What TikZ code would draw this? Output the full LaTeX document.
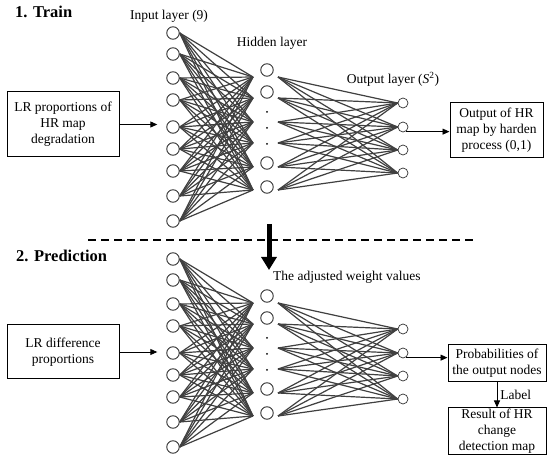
\documentclass[tikz,border=0pt]{standalone}
\usepackage{fontspec}
\setmainfont{Liberation Serif}
\usetikzlibrary{arrows.meta}
\tikzset{
 neuron/.style={circle, draw=black!80, line width=0.9pt, minimum size=12.5pt, inner sep=0pt, fill=white},
 outneuron/.style={neuron, minimum size=10pt, line width=0.7pt},
 edge/.style={draw=black!75, line width=1.2pt},
 box/.style={draw, line width=1pt, align=center, inner sep=0pt, font=\fontsize{13.5}{16}\selectfont},
 lbl/.style={font=\fontsize{13.5}{16}\selectfont, inner sep=0pt},
 ttl/.style={font=\fontsize{16.5}{20}\selectfont\bfseries, inner sep=0pt, anchor=west},
 arr/.style={-{Triangle[length=7pt,width=6pt]}, line width=0.9pt},
}
\newcommand\drawnet[2]{%
 \foreach \y [count=\i] in {70,92,163,187} \node[neuron] (#1hid\i) at (267,\y+#2) {};
 \foreach \y in {112,128,144} \fill (267,\y+#2) circle (1pt);
 \foreach \y [count=\i] in {103,127,150,173} \node[outneuron] (#1out\i) at (403,\y+#2) {};
 \foreach \y [count=\i] in {77,98,122,143,167,190} {\coordinate (#1a\i) at (253,\y+#2); \coordinate (#1b\i) at (278,\y+#2);}
 \foreach \y [count=\i] in {33,54,78,100,127,149,171,196,221} \node[neuron] (#1in\i) at (173,\y+#2) {};
 \foreach \i in {1,...,9} {\foreach \j in {1,...,6} {\draw[edge] (#1in\i.east) -- (#1a\j);}}
 \foreach \i in {1,...,6} {\foreach \j in {1,...,4} {\draw[edge] (#1b\i) -- (#1out\j.west);}}
}
\begin{document}
\begin{tikzpicture}[x=1pt,y=-1pt]
\fill[white] (0,0) rectangle (550,462);
\useasboundingbox (0,0) rectangle (550,462);

% titles and labels
\node[ttl] (t1) at (15,12) {1. Train};
\node[ttl] (t2) at (16,256) {2. Prediction};
\node[lbl] (linput) at (169,16) {Input layer (9)};
\node[lbl] (lhidden) at (272,43) {Hidden layer};
\node[lbl] (loutput) at (393,79) {Output layer (\textit{S}\textsuperscript{2})};
\node[lbl, anchor=west] (ladj) at (273,277) {The adjusted weight values};

% networks
\drawnet{tr}{0}
\drawnet{pr}{226}

% train boxes
\node[box, minimum width=112pt, minimum height=65pt] (lr1) at (63,124.5) {LR proportions of\\HR map\\degradation};
\draw[arr, shorten >=9pt] (lr1.east) -- (lr1.east -| trin5.west);
\node[box, minimum width=93pt, minimum height=55pt] (ob) at (496.5,130.5) {Output of HR\\map by harden\\process (0,1)};
\draw[arr] (trout2.-60) -- (trout2.-60 -| ob.west);

% separator and transfer arrow
\coordinate (d1) at (88,240);
\coordinate (d2) at (475,240);
\draw[line width=1.2pt, dash pattern=on 8pt off 5pt] (d1) -- (d2);
\coordinate (ta) at (269,224);
\coordinate (tb) at (269,270);
\draw[line width=5pt, -{Triangle[length=13pt,width=15pt]}] (ta) -- (tb);

% prediction boxes
\node[box, minimum width=112pt, minimum height=54pt] (lr2) at (63,352) {LR difference\\proportions};
\draw[arr, shorten >=9pt] (lr2.east) -- (lr2.east -| prin5.west);
\node[box, minimum width=98pt, minimum height=37pt] (prob) at (497,363.5) {Probabilities of\\the output nodes};
\draw[arr] (prout2.-60) -- (prout2.-60 -| prob.west);
\node[box, minimum width=98pt, minimum height=47pt] (res) at (497,431.5) {Result of HR\\change\\detection map};
\draw[arr] (prob.south) -- (res.north) node[midway, right, lbl, xshift=3pt] {Label};
\end{tikzpicture}
\end{document}
